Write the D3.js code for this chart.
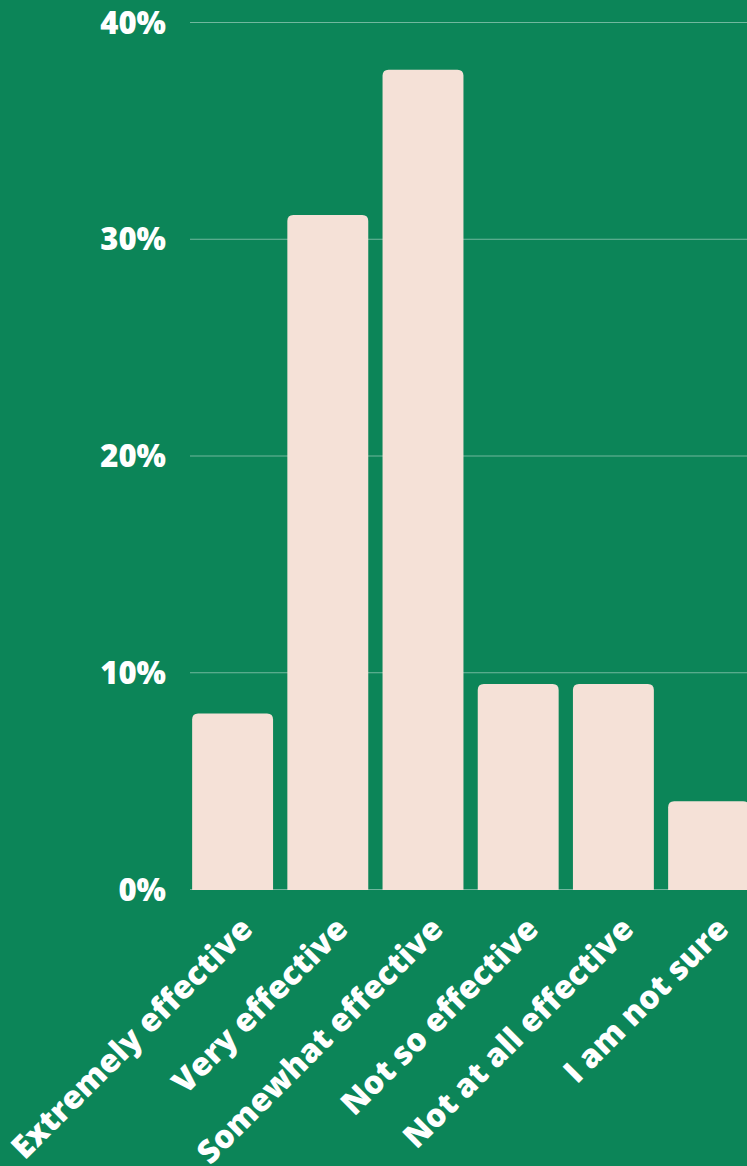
<!DOCTYPE html>
<html>
<head>
<meta charset="utf-8">
<script src="https://cdn.jsdelivr.net/npm/d3@7"></script>
<style>
  html, body { margin: 0; padding: 0; background: #0c8558; }
  svg { display: block; }
</style>
</head>
<body>
<svg id="chart"></svg>
<script>
// Survey answers and their share of respondents (%)
const categories = [
  "Extremely effective",
  "Very effective",
  "Somewhat effective",
  "Not so effective",
  "Not at all effective",
  "I am not sure"
];
const shares = [8.1, 31.1, 37.8, 9.46, 9.46, 4.05];
const yTicks = [0, 10, 20, 30, 40];

const width = 747, height = 1166;
const plotLeft = 190, plotTop = 22, plotBottom = 889;
const fontFamily = "'Open Sans', 'Noto Sans', sans-serif";

const svg = d3.select("#chart").attr("width", width).attr("height", height);

const x = d3.scaleBand()
  .domain(categories)
  .range([185, 185 + 95.2 * 6])
  .paddingInner(0.15)
  .paddingOuter(0.075);

const y = d3.scaleLinear()
  .domain([0, 40])
  .range([plotBottom, plotTop]);

// Horizontal gridlines
svg.append("g")
  .selectAll("line")
  .data(yTicks)
  .join("line")
  .attr("x1", plotLeft)
  .attr("x2", width)
  .attr("y1", d => y(d) + 0.5)
  .attr("y2", d => y(d) + 0.5)
  .attr("stroke", "rgba(255,255,255,0.42)")
  .attr("stroke-width", 1.2);

// Y axis labels
const yAxis = d3.axisLeft(y).tickValues(yTicks).tickFormat(d => d + "%").tickSize(0).tickPadding(0);
const yg = svg.append("g").attr("transform", "translate(166,0)").call(yAxis);
yg.select(".domain").remove();
yg.selectAll("text")
  .attr("font-size", 31)
  .attr("font-family", fontFamily)
  .attr("font-weight", 800)
  .attr("fill", "#ffffff")
  .attr("dy", "0.36em");

// Bars with rounded top corners
const r = 6;
function barPath(d, i) {
  const x0 = x(categories[i]), w = x.bandwidth();
  const yTop = y(d), yBase = y(0) + 1;
  return `M${x0},${yBase}V${yTop + r}Q${x0},${yTop} ${x0 + r},${yTop}` +
         `H${x0 + w - r}Q${x0 + w},${yTop} ${x0 + w},${yTop + r}V${yBase}Z`;
}
svg.append("g")
  .selectAll("path")
  .data(shares)
  .join("path")
  .attr("d", barPath)
  .attr("fill", "#f5e1d7");

// Rotated category labels
const xAxis = d3.axisBottom(x).tickSize(0).tickPadding(0);
const xg = svg.append("g").attr("transform", `translate(0,${plotBottom})`).call(xAxis);
xg.select(".domain").remove();
xg.selectAll("text")
  .attr("font-size", 32)
  .attr("font-family", fontFamily)
  .attr("font-weight", 800)
  .attr("fill", "#ffffff")
  .attr("text-anchor", "end")
  .attr("dy", null)
  .attr("y", 0)
  .attr("transform", "translate(22,42) rotate(-45)");
</script>
</body>
</html>
